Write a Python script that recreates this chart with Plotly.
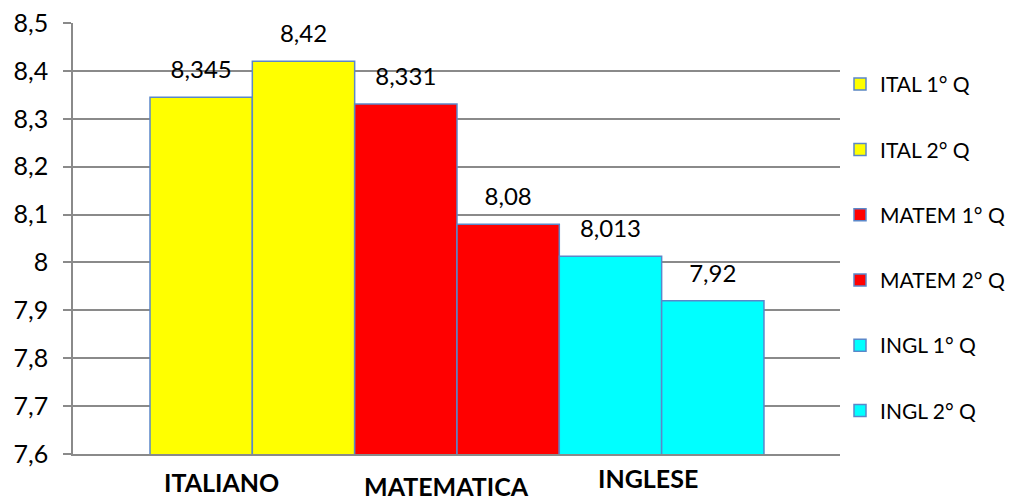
import plotly.graph_objects as go

# ---- data ----
series_names = ["ITAL 1° Q", "ITAL 2° Q", "MATEM 1° Q", "MATEM 2° Q", "INGL 1° Q", "INGL 2° Q"]
series_values = [8.345, 8.42, 8.331, 8.08, 8.013, 7.92]
series_colors = ["#FFFF00", "#FFFF00", "#FF0000", "#FF0000", "#00FFFF", "#00FFFF"]
subject_labels = ["ITALIANO", "MATEMATICA", "INGLESE"]
y_ticks = [7.6, 7.7, 7.8, 7.9, 8.0, 8.1, 8.2, 8.3, 8.4, 8.5]

FONT = "Lato"
GRID = "#8A8A8A"
BORDER = "#5B87C9"

fig = go.Figure()

positions = list(range(len(series_values)))
for i, (name, val, col) in enumerate(zip(series_names, series_values, series_colors)):
    fig.add_trace(go.Bar(
        x=[positions[i]], y=[val], width=1, name=name,
        marker=dict(color=col, line=dict(color=BORDER, width=1.5)),
        legendgroup=name, hoverinfo="skip",
    ))

labels = [f"{v}".replace(".", ",") for v in series_values]
fig.add_trace(go.Scatter(
    x=positions, y=series_values, mode="markers+text", text=labels,
    textposition="top center",
    marker=dict(size=19, opacity=0),
    textfont=dict(family=FONT, size=24, color="#000000"),
    showlegend=False, hoverinfo="skip", cliponaxis=False,
))

# subject labels below axis (positions in data units, offsets in paper units)
label_x = [0.20, 2.40, 4.37]
label_y = [-0.064, -0.074, -0.056]
for txt, lx, ly in zip(subject_labels, label_x, label_y):
    fig.add_annotation(x=lx, y=ly, xref="x", yref="paper", text=f"<b>{txt}</b>",
                       showarrow=False, xanchor="center", yanchor="middle",
                       font=dict(family=FONT, size=25, color="#000000"))

fig.update_layout(
    template="none",
    width=1011, height=496,
    margin=dict(l=73, r=171, t=23, b=42, autoexpand=False),
    paper_bgcolor="white", plot_bgcolor="white",
    barmode="overlay",
    separators=",.",
    font=dict(family=FONT, size=21, color="#000000"),
    showlegend=True,
    legend=dict(x=1.0, xanchor="left", y=0.905, yanchor="top",
                tracegroupgap=35, font=dict(family=FONT, size=21, color="#000000"),
                bgcolor="rgba(0,0,0,0)", borderwidth=0),
    xaxis=dict(range=[-1.2525, 6.243], showticklabels=False, showgrid=False,
               zeroline=False, showline=True, linecolor=GRID, linewidth=1.5, ticks="",
               automargin=False),
    yaxis=dict(range=[7.6, 8.5], tickvals=y_ticks, showgrid=True, gridcolor=GRID,
               gridwidth=1.5, zeroline=False, showline=True, linecolor=GRID, linewidth=1.5,
               ticks="outside", ticklen=8, tickcolor=GRID, tickwidth=1.5,
               ticklabelstandoff=10, automargin=False,
               tickfont=dict(family=FONT, size=25, color="#000000")),
)

fig.write_html("out.html", config={"displayModeBar": False},
               post_script="document.body.style.margin='0';document.body.style.overflow='hidden';")
